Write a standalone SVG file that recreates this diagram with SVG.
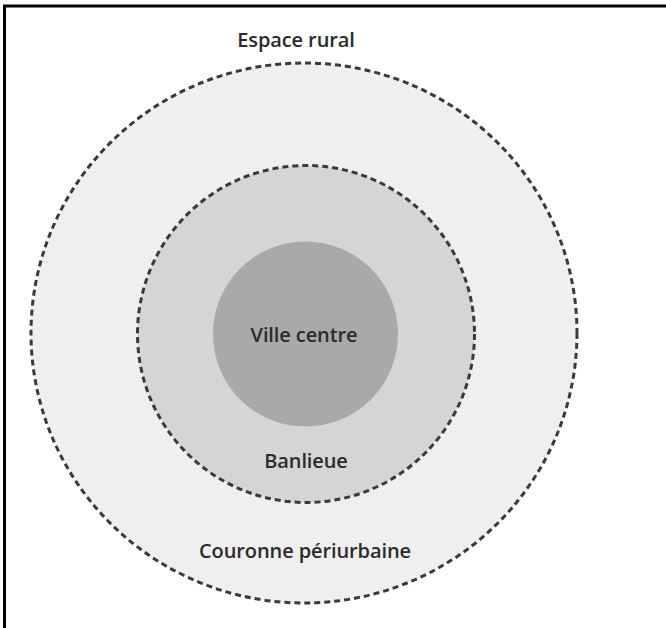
<svg xmlns="http://www.w3.org/2000/svg" width="666" height="628" viewBox="0 0 666 628">
<style>
.zone{stroke:#3a3a3a;stroke-width:3;stroke-dasharray:6 4;}
.lbl{font-family:"Open Sans","Liberation Sans",sans-serif;font-size:20px;font-weight:600;fill:#2b2b2b;text-anchor:middle;letter-spacing:-0.1px;}
</style>
<rect x="0" y="0" width="666" height="628" fill="#fff"/>
<g id="frame">
<line x1="4.5" y1="5" x2="4.5" y2="628" stroke="#000" stroke-width="3"/>
<line x1="3" y1="6" x2="666" y2="6" stroke="#000" stroke-width="3"/>
</g>
<g id="couronne">
<ellipse cx="304" cy="333" rx="273" ry="270" fill="#efefef" class="zone"/>
<text class="lbl" x="305" y="558">Couronne périurbaine</text>
</g>
<g id="banlieue">
<circle cx="306" cy="334" r="168.5" fill="#d5d5d5" class="zone"/>
<text class="lbl" x="306" y="468">Banlieue</text>
</g>
<g id="ville-centre">
<circle cx="305.5" cy="334" r="92.5" fill="#a9a9a9"/>
<text class="lbl" x="304" y="342">Ville centre</text>
</g>
<g id="espace-rural">
<text class="lbl" x="296" y="47">Espace rural</text>
</g>
<g id="connectors"/>
</svg>
